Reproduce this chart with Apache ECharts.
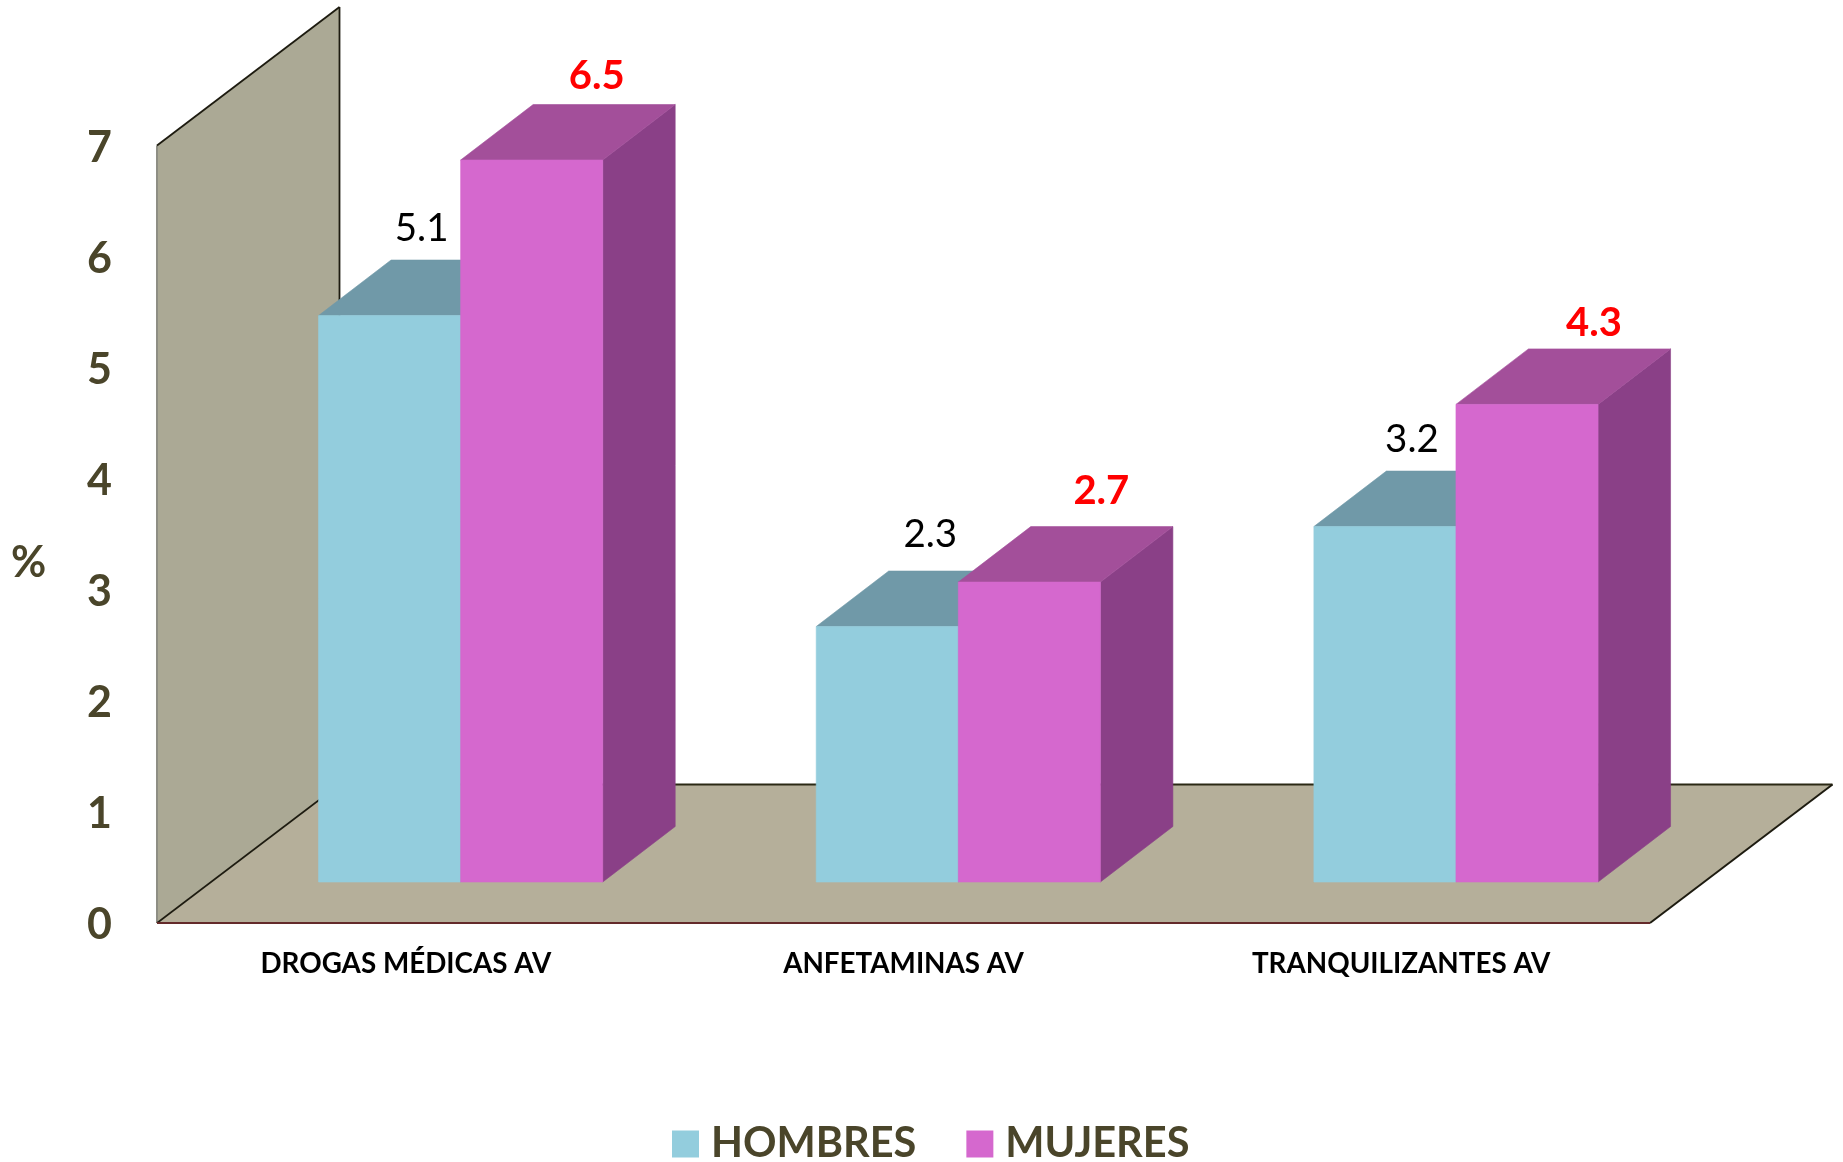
<!DOCTYPE html>
<html>
<head>
<meta charset="utf-8">
<style>html,body{margin:0;padding:0;background:#fff}#c{width:1843px;height:1162px}</style>
<script src="https://cdn.jsdelivr.net/npm/echarts@6/dist/echarts.min.js"></script>
</head>
<body>
<div id="c"></div>
<script>
const categories = ['DROGAS MÉDICAS AV', 'ANFETAMINAS AV', 'TRANQUILIZANTES AV'];
const hombres = [5.1, 2.3, 3.2];
const mujeres = [6.5, 2.7, 4.3];
const yTicks = [0, 7, 1];

// Oblique projection of the chart box, in pixels
const FONT = 'Lato, Carlito, Calibri, sans-serif';
const WALL = {dx: 182.5, dy: 138.5};
const BAR = {dx: 72.5, dy: 55.5};
const FLOOR_INSET = {dx: 54.8, dy: 41};
const BAR_WIDTH_RATIO = 0.2855;

const labelNudgeH = [[32, -31], [43, -36], [27, -31]];
const labelNudgeM = [[65, -28], [72, -36], [67, -26]];

function poly(points, fill, stroke) {
  return {type: 'polygon', shape: {points}, silent: true,
    style: {fill, stroke: stroke || fill, lineWidth: stroke ? 1 : 0.6}};
}
function seg(a, b, color, w) {
  return {type: 'line', silent: true, shape: {x1: a[0], y1: a[1], x2: b[0], y2: b[1]},
    style: {stroke: color, lineWidth: w, fill: null}};
}

function renderFrame(params) {
  const g = params.coordSys, x = g.x, y = g.y, w = g.width, h = g.height;
  const b = y + h, dx = WALL.dx, dy = WALL.dy;
  const dark = '#1d1b10';
  return {type: 'group', children: [
    poly([[x, y], [x + dx, y - dy], [x + dx, b - dy], [x, b]], '#aba995'),
    poly([[x, b], [x + dx, b - dy], [x + w + dx, b - dy], [x + w, b]], '#b5af9a'),
    seg([x, y], [x, b], '#8e8e84', 2),
    seg([x, y], [x + dx, y - dy], dark, 1.8),
    seg([x + dx, y - dy], [x + dx, b - dy], dark, 1.8),
    seg([x, b], [x + dx, b - dy], dark, 1.6),
    seg([x + dx, b - dy], [x + w + dx, b - dy], '#2b2915', 2),
    seg([x + w + dx, b - dy], [x + w, b], dark, 2),
    seg([x, b], [x + w, b], '#642a2a', 2.2)
  ]};
}

function barRenderer(side, colors, nudges, labelStyle, values) {
  return function (params, api) {
    const i = api.value(0), v = api.value(1);
    const top = api.coord([i, v]), base = api.coord([i, 0]);
    const bw = api.size([1, 0])[0] * BAR_WIDTH_RATIO;
    const cx = top[0] + FLOOR_INSET.dx;
    const x0 = side < 0 ? cx - bw : cx, x1 = x0 + bw;
    const yt = top[1] - FLOOR_INSET.dy, yb = base[1] - FLOOR_INSET.dy;
    const dx = BAR.dx, dy = BAR.dy;
    const n = nudges[params.dataIndex];
    return {type: 'group', children: [
      poly([[x1, yt], [x1 + dx, yt - dy], [x1 + dx, yb - dy], [x1, yb]], colors.side),
      poly([[x0, yt], [x0 + dx, yt - dy], [x1 + dx, yt - dy], [x1, yt]], colors.top),
      poly([[x0, yt], [x1, yt], [x1, yb], [x0, yb]], colors.front),
      {type: 'text', silent: true, z2: 10, style: Object.assign({
        text: values[params.dataIndex].toFixed(1),
        x: (x0 + x1) / 2 + n[0], y: yt - dy + n[1],
        align: 'center', verticalAlign: 'middle', fontFamily: FONT
      }, labelStyle)}
    ]};
  };
}

const chart = echarts.init(document.getElementById('c'), null, {renderer: 'canvas'});
chart.setOption({
  animation: false,
  backgroundColor: '#ffffff',
  grid: {left: 157, top: 145.5, width: 1493, height: 777.5, containLabel: false},
  xAxis: {
    type: 'category', data: categories,
    axisLine: {show: false}, axisTick: {show: false}, splitLine: {show: false},
    axisLabel: {color: '#000000', fontFamily: FONT, fontWeight: 'bold', fontSize: 27.8, margin: 27, interval: 0}
  },
  yAxis: {
    type: 'value', min: yTicks[0], max: yTicks[1], interval: yTicks[2],
    axisLine: {show: false}, axisTick: {show: false}, splitLine: {show: false},
    axisLabel: {
      margin: 45, formatter: '{t|{value}}',
      rich: {t: {color: '#4a452a', fontFamily: FONT, fontWeight: 'bold', fontSize: 43, padding: [5, 0, 0, 0]}}
    }
  },
  legend: {
    data: ['HOMBRES', 'MUJERES'], icon: 'rect', left: 672, top: 1123,
    itemWidth: 27, itemHeight: 27, itemGap: 50, padding: 0,
    textStyle: {color: '#4a452a', fontFamily: FONT, fontWeight: 'bold', fontSize: 41.5, padding: [0, 0, 0, 7]}
  },
  graphic: [{type: 'text', left: 11, top: 542,
    style: {text: '%', fill: '#4a452a', fontFamily: FONT, fontWeight: 'bold', fontSize: 43}}],
  series: [
    {type: 'custom', name: 'frame', silent: true, clip: false, z: 1, data: [[0, 0]],
     encode: {x: 0, y: 1}, renderItem: renderFrame},
    {type: 'custom', name: 'HOMBRES', silent: true, clip: false, z: 2,
     itemStyle: {color: '#93cddd'}, encode: {x: 0, y: 1},
     data: hombres.map((v, i) => [i, v]),
     renderItem: barRenderer(-1, {front: '#93cddd', top: '#7099a8', side: '#6d96a5'}, labelNudgeH,
       {fill: '#000000', fontSize: 38.5, fontWeight: 'normal'}, hombres)},
    {type: 'custom', name: 'MUJERES', silent: true, clip: false, z: 3,
     itemStyle: {color: '#d568ce'}, encode: {x: 0, y: 1},
     data: mujeres.map((v, i) => [i, v]),
     renderItem: barRenderer(1, {front: '#d568ce', top: '#a34f9a', side: '#8a4087'}, labelNudgeM,
       {fill: '#ff0000', fontSize: 40, fontWeight: 'bold'}, mujeres)}
  ]
});
</script>
</body>
</html>
